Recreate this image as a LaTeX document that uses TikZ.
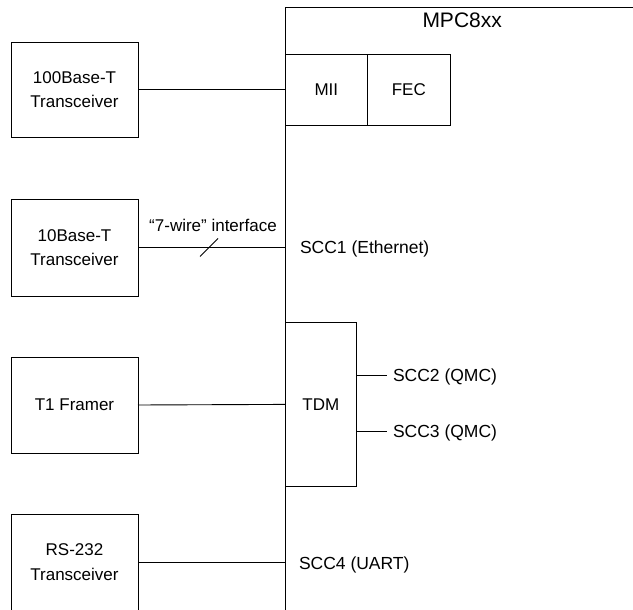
\documentclass[tikz,border=0pt]{standalone}
\usepackage{fontspec}
\setmainfont{Liberation Sans}
\begin{document}
\begin{tikzpicture}[x=1pt,y=-1pt,
  every node/.style={font=\fontsize{17pt}{24.5pt}\selectfont},
  line/.style={draw=black, line width=0.9pt},
  devbox/.style={draw=black, line width=0.9pt, minimum width=127pt, inner sep=0pt, outer sep=0pt, align=center},
  lbl/.style={inner sep=0pt, outer sep=0pt, text height=12.3pt, text depth=0pt},
  scclbl/.style={lbl, anchor=west, font=\fontsize{17.5pt}{24.5pt}\selectfont, text height=12.6pt},
]
\useasboundingbox[fill=white] (0,0) rectangle (633,610);

% transceiver / framer boxes
\node[devbox, minimum height=95pt] (t100) at (74.5,89.5) {100Base-T\\Transceiver};
\node[devbox, minimum height=97pt] (t10) at (74.5,247.5) {10Base-T\\Transceiver};
\node[devbox, minimum height=96pt] (t1) at (74.5,405) {T1 Framer};
\node[devbox, minimum height=96pt] (rs) at (74.5,562) {RS-232\\Transceiver};

% MPC8xx outline
\coordinate (mpcTL) at (285,7.5);
\coordinate (mpcB) at (285,612);
\coordinate (mpcR) at (635,7.5);
\draw[line] (mpcB) -- (mpcTL) -- (mpcR);
\node[lbl, anchor=west, font=\fontsize{21pt}{24pt}\selectfont, text height=14.6pt] (mpc) at (422.5,20.5) {MPC8xx};

% internal blocks
\node[devbox, minimum width=82.7pt, minimum height=71pt] (mii) at (326.35,89.5) {MII};
\node[devbox, minimum width=82.3pt, minimum height=71pt] (fec) at (408.85,89.5) {FEC};
\node[devbox, minimum width=71.7pt, minimum height=163.3pt] (tdm) at (320.85,404.4) {TDM};

% labels
\node[lbl] (wire) at (213,225) {“7-wire” interface};
\node[scclbl] (scc1) at (300,247) {SCC1 (Ethernet)};
\node[scclbl] (scc2) at (393,375) {SCC2 (QMC)};
\node[scclbl] (scc3) at (393,431) {SCC3 (QMC)};
\node[scclbl] (scc4) at (299,563) {SCC4 (UART)};

% connectors
\draw[line] (t100.east) -- (mii.west);
\draw[line] (t10.east) -- (t10.east -| mpcTL);
\coordinate (slash) at (209,247.5);
\draw[line] ([shift={(-9,9)}]slash) -- ([shift={(9,-9)}]slash);
\draw[line] (t1.east) -- (tdm.west);
\draw[line] (rs.east) -- (rs.east -| mpcTL);
\draw[line] (tdm.east |- scc2.west) -- ([xshift=-6.5pt]scc2.west);
\draw[line] (tdm.east |- scc3.west) -- ([xshift=-6.5pt]scc3.west);
\end{tikzpicture}
\end{document}
